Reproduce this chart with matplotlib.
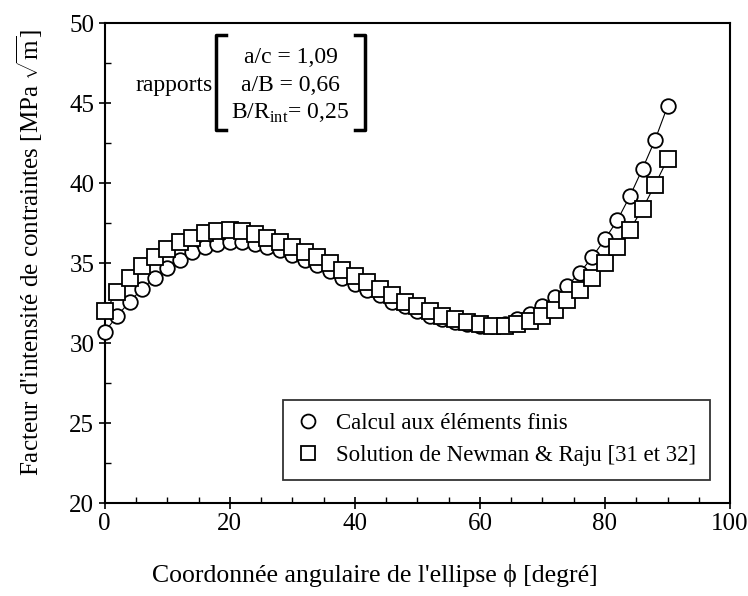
#---importing the libraries---
import numpy as np
import matplotlib
matplotlib.use('Agg')
import matplotlib.pyplot as plt
from matplotlib.ticker import MultipleLocator

#---data---
# angular position on the ellipse (degrees)
phi = np.arange(0, 92, 2)

# finite element results (circles)
k_fe = [30.7, 31.7, 32.6, 33.4, 34.1, 34.7, 35.2, 35.7, 36.0, 36.2,
        36.3, 36.3, 36.2, 36.0, 35.8, 35.5, 35.2, 34.9, 34.5, 34.1,
        33.7, 33.3, 33.0, 32.6, 32.3, 32.0, 31.7, 31.5, 31.3, 31.2,
        31.1, 31.1, 31.2, 31.5, 31.8, 32.3, 32.9, 33.6, 34.4, 35.4,
        36.5, 37.7, 39.2, 40.9, 42.7, 44.8]

# Newman & Raju solution (squares)
k_nr = [32.0, 33.2, 34.1, 34.8, 35.4, 35.9, 36.3, 36.6, 36.9, 37.0,
        37.1, 37.0, 36.8, 36.6, 36.3, 36.0, 35.7, 35.4, 35.0, 34.6,
        34.2, 33.8, 33.4, 33.0, 32.6, 32.3, 32.0, 31.7, 31.5, 31.3,
        31.2, 31.1, 31.1, 31.2, 31.4, 31.7, 32.1, 32.7, 33.3, 34.1,
        35.0, 36.0, 37.1, 38.4, 39.9, 41.5]

ratio_lines = [r'a/c = 1,09', r'a/B = 0,66', r'B/R$_{\rm int}$= 0,25']

#---plotting---
plt.rcParams['font.family'] = ['Liberation Serif', 'DejaVu Serif']
plt.rcParams['mathtext.fontset'] = 'custom'
plt.rcParams['mathtext.rm'] = 'Liberation Serif'

fig = plt.figure(figsize=(7.48, 5.96), dpi=100)
ax = fig.add_axes([0.140, 0.156, 0.836, 0.805])

ax.plot(phi, k_fe, '-', color='black', lw=0.8, marker='o', ms=10.5,
        mfc='white', mec='black', mew=1.3, label='Calcul aux éléments finis',
        zorder=3, clip_on=False)
ax.plot(phi, k_nr, '-', color='black', lw=0.8, marker='s', ms=11,
        mfc='white', mec='black', mew=1.3,
        label='Solution de Newman & Raju [31 et 32]', zorder=4, clip_on=False)

ax.set_xlim(0, 100)
ax.set_ylim(20, 50)
ax.xaxis.set_major_locator(MultipleLocator(20))
ax.xaxis.set_minor_locator(MultipleLocator(5))
ax.yaxis.set_major_locator(MultipleLocator(5))
ax.yaxis.set_minor_locator(MultipleLocator(2.5))
ax.tick_params(which='major', direction='inout', length=8, width=1.2, labelsize=18)
ax.tick_params(which='minor', direction='in', length=4, width=1)
ax.tick_params(right=False, top=False, which='both')
for s in ax.spines.values():
    s.set_linewidth(1.5)

ax.set_xlabel("Coordonnée angulaire de l'ellipse ϕ [degré]", fontsize=18.5)
ax.set_ylabel(r"Facteur d'intensité de contraintes [MPa $\sqrt{\rm m}$]", fontsize=18)
ax.xaxis.set_label_coords(0.432, -0.128)
ax.yaxis.set_label_coords(-0.095, 0.522)

leg = ax.legend(loc='lower right', bbox_to_anchor=(0.986, 0.025), fontsize=16.5,
                frameon=True, fancybox=False, edgecolor='black', handlelength=1.0,
                handletextpad=0.7, borderpad=0.6, labelspacing=0.45)
leg.get_frame().set_linewidth(1.3)
for h in leg.legend_handles:
    h.set_linestyle('none')
    h.set_markersize(10)

# the "rapports [ ... ]" box in the top left corner
ax.text(0.173, 0.871, 'rapports', transform=ax.transAxes, fontsize=17,
        ha='right', va='center')
for i, t in enumerate(ratio_lines):
    ax.text(0.297, 0.929 - i * 0.058, t, transform=ax.transAxes, fontsize=17,
            ha='center', va='center')
bx = [0.178, 0.416]
by = [0.777, 0.975]
ax.plot([bx[0] + 0.016, bx[0], bx[0], bx[0] + 0.016], [by[1], by[1], by[0], by[0]],
        color='black', lw=2.5, transform=ax.transAxes, clip_on=False)
ax.plot([bx[1] - 0.016, bx[1], bx[1], bx[1] - 0.016], [by[1], by[1], by[0], by[0]],
        color='black', lw=2.5, transform=ax.transAxes, clip_on=False)

fig.savefig('out.png', dpi=100)
